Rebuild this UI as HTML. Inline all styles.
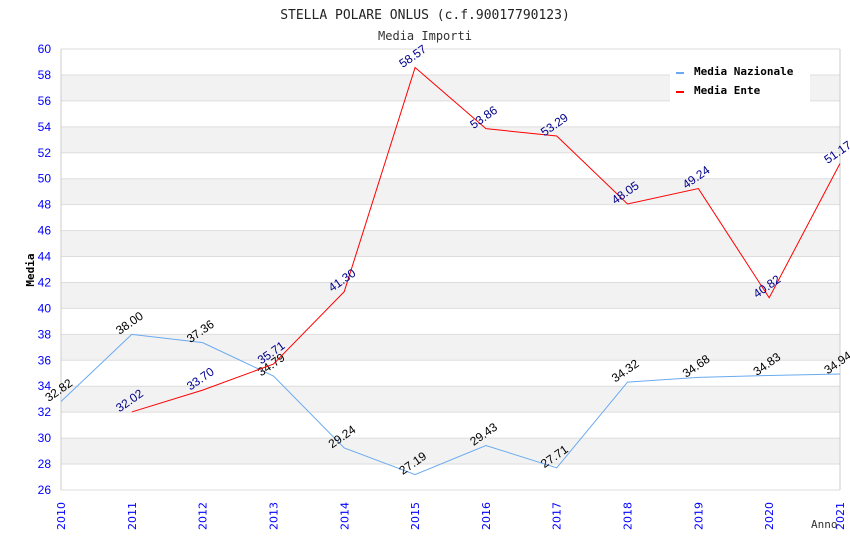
<!DOCTYPE html>
<html><head><meta charset="utf-8"><style>
body{margin:0;background:#fff}
svg text{font-family:"DejaVu Sans Mono","Liberation Mono",monospace}
svg text.vl{font-family:"Liberation Sans",sans-serif}
svg text.yt{font-family:"Liberation Sans",sans-serif}
svg text.xt{font-family:"DejaVu Sans",sans-serif}
</style></head><body>
<svg id="chart" width="850" height="550" xmlns="http://www.w3.org/2000/svg">
<text x="425" y="19" text-anchor="middle" font-size="13" fill="#222">STELLA POLARE ONLUS (c.f.90017790123)</text>
<text x="425" y="40" text-anchor="middle" font-size="12" fill="#333">Media Importi</text>
<g id="bands"></g><g id="grid"></g><g id="axes"></g><g id="series"></g>
<text transform="translate(34,270) rotate(-90)" text-anchor="middle" font-size="11" font-weight="bold" fill="#000">Media</text>
<text x="811" y="528" font-size="11" fill="#333">Anno</text>
<g>
<rect x="670" y="60" width="140" height="42" fill="#fff"/>
<g><rect x="676" y="72" width="8" height="2" fill="#6aaaf0"/><text x="694" y="75" font-size="11" font-weight="bold">Media Nazionale</text></g>
<g><rect x="676" y="91" width="8" height="2" fill="#f00"/><text x="694" y="94" font-size="11" font-weight="bold">Media Ente</text></g>
</g>
</svg>
<script>
const years=[2010,2011,2012,2013,2014,2015,2016,2017,2018,2019,2020,2021];
const nazionale=[32.82,38.00,37.36,34.79,29.24,27.19,29.43,27.71,34.32,34.68,34.83,34.94];
const ente=[null,32.02,33.70,35.71,41.30,58.57,53.86,53.29,48.05,49.24,40.82,51.17];
const yTicks=[26,28,30,32,34,36,38,40,42,44,46,48,50,52,54,56,58,60];
const NS="http://www.w3.org/2000/svg";
const X0=61,X1=840,Y0=490,Y1=49,YMIN=26,YMAX=60;
const xs=i=>X0+(X1-X0)*i/(years.length-1);
const ys=v=>Y0-(v-YMIN)/(YMAX-YMIN)*(Y0-Y1);
function mk(t,a,p){const e=document.createElementNS(NS,t);for(const k in a)e.setAttribute(k,a[k]);p.appendChild(e);return e;}
const bands=document.getElementById('bands'),grid=document.getElementById('grid'),axes=document.getElementById('axes'),series=document.getElementById('series');
for(let i=0;i<yTicks.length-1;i++){
  if(((yTicks[i]-YMIN)/2)%2===1){
    const r=mk('rect',{x:X0,y:ys(yTicks[i+1]),width:X1-X0,height:ys(yTicks[i])-ys(yTicks[i+1]),fill:'#f2f2f2'},bands);
    
    
  }
}
yTicks.forEach(v=>{
  const l=mk('line',{x1:X0,x2:X1,y1:ys(v),y2:ys(v),stroke:'#ddd'},grid);
  
  
  const t=mk('text',{x:51,y:ys(v)+4,'text-anchor':'end','font-size':12,fill:'#00f',class:'yt'},axes);
  t.textContent=v;
  
  
});
mk('line',{x1:X0,x2:X0,y1:Y1,y2:Y0,stroke:'#ccc'},axes);
mk('line',{x1:X1,x2:X1,y1:Y1,y2:Y0,stroke:'#ccc'},axes);
years.forEach((y,i)=>{
  const t=mk('text',{transform:`translate(${xs(i)+4},${Y0+40}) rotate(-90)`,'font-size':11,fill:'#00f',class:'xt'},axes);
  t.textContent=y;
  
  
});
function draw(data,color,lblColor,name){
  let d='';data.forEach((v,i)=>{if(v==null)return;d+=(d?'L':'M')+xs(i)+','+ys(v);});
  const p=mk('path',{d:d,fill:'none',stroke:color,'stroke-width':1},series);
  
  
  data.forEach((v,i)=>{if(v==null)return;
    const t=mk('text',{transform:`translate(${xs(i)},${ys(v)-8}) rotate(-35)`,'text-anchor':'middle','font-size':12,fill:lblColor,class:'vl'},series);
    t.textContent=v.toFixed(2);
    
    
  });
}
draw(nazionale,'#6aaaf0','#000','nazionale');
draw(ente,'#f00','#00008b','ente');
</script>
</body></html>
